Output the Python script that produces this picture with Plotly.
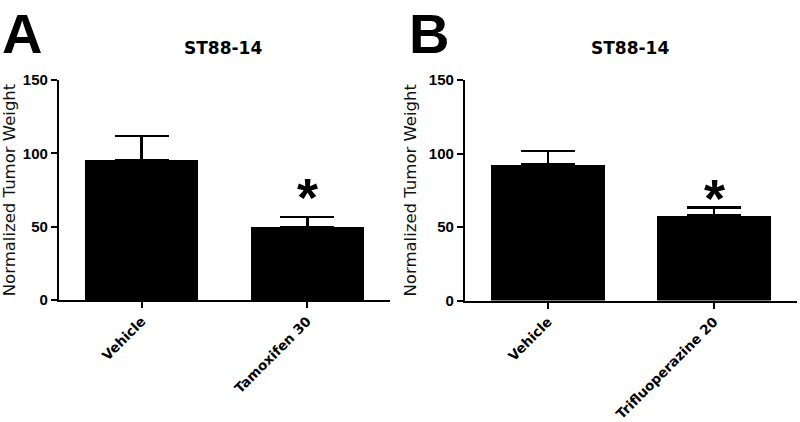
import plotly.graph_objects as go

# Data
cats_a = ["Vehicle", "Tamoxifen 30"]
vals_a = [95.5, 49.8]
err_a = [16.3, 6.8]

cats_b = ["Vehicle", "Trifluoperazine 20"]
vals_b = [92.5, 57.8]
err_b = [9.3, 5.5]

y_ticks = [0, 50, 100, 150]
title_text = "ST88-14"
ytitle = "Normalized Tumor Weight"
sig_a = [None, "*"]
sig_b = [None, "*"]

W, H = 800, 422
ARIAL = "Liberation Sans, Arial, sans-serif"
WIDE = "DejaVu Sans, Verdana, sans-serif"

def fx(px):
    return px / W

def fy(py):
    return (H - py) / H

fig = go.Figure()

err_style = dict(type="data", symmetric=False, arrayminus=[0, 0],
                 color="black", thickness=2.6, width=27)

fig.add_trace(go.Bar(x=cats_a, y=vals_a, marker=dict(color="black", line=dict(width=0)),
                     width=0.685, error_y=dict(array=err_a, **err_style),
                     xaxis="x", yaxis="y", showlegend=False))
fig.add_trace(go.Bar(x=cats_b, y=vals_b, marker=dict(color="black", line=dict(width=0)),
                     width=0.685, error_y=dict(array=err_b, **err_style),
                     xaxis="x2", yaxis="y2", showlegend=False))

axis_common = dict(showline=True, linecolor="black", linewidth=2.2, showgrid=False,
                   zeroline=False, ticks="outside", tickcolor="black", tickwidth=2.2,
                   automargin=False)

ytickfont = dict(family=ARIAL, size=15, color="black", weight="bold")
xtickfont = dict(family=WIDE, size=13.5, color="black", weight="bold")
ytitlefont = dict(family=WIDE, size=16.5, color="#111111")

fig.update_layout(
    width=W, height=H,
    margin=dict(l=0, r=0, t=0, b=0),
    paper_bgcolor="white", plot_bgcolor="white",
    bargap=0,
    xaxis=dict(domain=[fx(59), fx(390)], range=[-0.5, 1.5], anchor="y",
               tickangle=-45, ticklen=6, tickfont=xtickfont, **axis_common),
    yaxis=dict(domain=[fy(300), fy(80)], range=[0, 150], anchor="x",
               tickvals=y_ticks, ticklen=6, tickfont=ytickfont,
               title=dict(text=ytitle, font=ytitlefont, standoff=8),
               **axis_common),
    xaxis2=dict(domain=[fx(465), fx(797)], range=[-0.5, 1.5], anchor="y2",
                tickangle=-45, ticklen=6, tickfont=xtickfont, **axis_common),
    yaxis2=dict(domain=[fy(300.5), fy(80)], range=[0, 150], anchor="x2",
                tickvals=y_ticks, ticklen=6, tickfont=ytickfont,
                title=dict(text=ytitle, font=ytitlefont, standoff=8),
                **axis_common),
)

annots = []
# panel letters
for letter, px in [("A", 0), ("B", 407)]:
    annots.append(dict(text="<b>" + letter + "</b>", x=fx(px), y=1, xref="paper", yref="paper",
                       xanchor="left", yanchor="top", showarrow=False, yshift=0,
                       font=dict(family=ARIAL, size=56, color="black")))
# titles
for cx in [223, 630]:
    annots.append(dict(text="<b>" + title_text + "</b>", x=fx(cx), y=fy(48), xref="paper", yref="paper",
                       xanchor="center", yanchor="middle", showarrow=False,
                       font=dict(family=WIDE, size=17, color="black")))
# significance
for cats, vals, errs, sig, xr, yr, shift in [(cats_a, vals_a, err_a, sig_a, "x", "y", 20),
                                             (cats_b, vals_b, err_b, sig_b, "x2", "y2", 9)]:
    for c, v, e, s in zip(cats, vals, errs, sig):
        if s:
            annots.append(dict(text="<b>" + s + "</b>", x=c, y=v + e, xref=xr, yref=yr,
                               xanchor="center", yanchor="middle", showarrow=False, yshift=shift,
                               font=dict(family=ARIAL, size=54, color="black")))
fig.update_layout(annotations=annots)

fig.write_html("out.html", config={"displayModeBar": False},
               post_script="document.body.style.margin='0';")
